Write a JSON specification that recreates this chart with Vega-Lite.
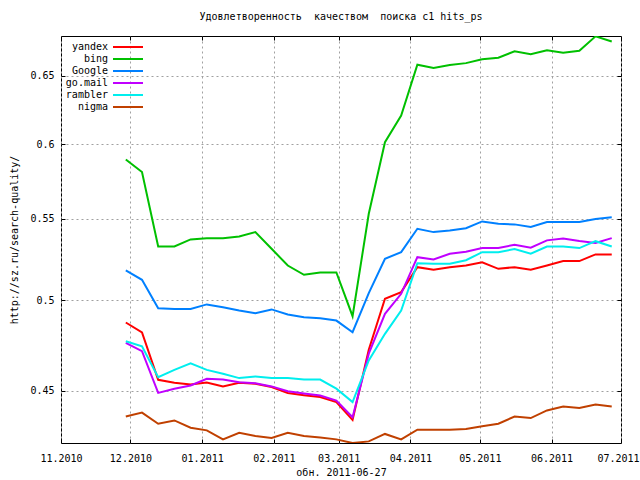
{
  "$schema": "https://vega.github.io/schema/vega-lite/v6.json",
  "autosize": "none",
  "width": 560,
  "height": 407,
  "padding": {"left": 61, "top": 36, "right": 19, "bottom": 37},
  "background": "white",
  "title": {
    "text": "Удовлетворенность\u00a0 качеством\u00a0 поиска c1 hits_ps",
    "font": "DejaVu Sans Mono",
    "fontSize": 10,
    "fontWeight": "normal",
    "color": "black",
    "anchor": "middle",
    "offset": 14
  },
  "config": {
    "view": {"stroke": "black", "strokeWidth": 1},
    "axis": {
      "labelFont": "DejaVu Sans Mono",
      "labelFontSize": 10,
      "labelColor": "black",
      "titleFont": "DejaVu Sans Mono",
      "titleFontSize": 10,
      "titleFontWeight": "normal",
      "titleColor": "black",
      "tickColor": "black",
      "domain": false,
      "gridColor": "#a0a0a0",
      "gridDash": [2, 3],
      "gridWidth": 1
    }
  },
  "data": {
    "values": [
      {"date": "2010-11-29", "engine": "yandex", "v": 0.4873}, {"date": "2010-11-29", "engine": "bing", "v": 0.5894}, {"date": "2010-11-29", "engine": "Google", "v": 0.5178}, {"date": "2010-11-29", "engine": "go.mail", "v": 0.4759}, {"date": "2010-11-29", "engine": "rambler", "v": 0.4768}, {"date": "2010-11-29", "engine": "nigma", "v": 0.4367},
      {"date": "2010-12-06", "engine": "yandex", "v": 0.4817}, {"date": "2010-12-06", "engine": "bing", "v": 0.5808}, {"date": "2010-12-06", "engine": "Google", "v": 0.5122}, {"date": "2010-12-06", "engine": "go.mail", "v": 0.4713}, {"date": "2010-12-06", "engine": "rambler", "v": 0.4740}, {"date": "2010-12-06", "engine": "nigma", "v": 0.4387},
      {"date": "2010-12-13", "engine": "yandex", "v": 0.4558}, {"date": "2010-12-13", "engine": "bing", "v": 0.5325}, {"date": "2010-12-13", "engine": "Google", "v": 0.4955}, {"date": "2010-12-13", "engine": "go.mail", "v": 0.4489}, {"date": "2010-12-13", "engine": "rambler", "v": 0.4572}, {"date": "2010-12-13", "engine": "nigma", "v": 0.4330},
      {"date": "2010-12-20", "engine": "yandex", "v": 0.4542}, {"date": "2010-12-20", "engine": "bing", "v": 0.5325}, {"date": "2010-12-20", "engine": "Google", "v": 0.4950}, {"date": "2010-12-20", "engine": "go.mail", "v": 0.4511}, {"date": "2010-12-20", "engine": "rambler", "v": 0.4611}, {"date": "2010-12-20", "engine": "nigma", "v": 0.4347},
      {"date": "2010-12-27", "engine": "yandex", "v": 0.4533}, {"date": "2010-12-27", "engine": "bing", "v": 0.5369}, {"date": "2010-12-27", "engine": "Google", "v": 0.4950}, {"date": "2010-12-27", "engine": "go.mail", "v": 0.4528}, {"date": "2010-12-27", "engine": "rambler", "v": 0.4647}, {"date": "2010-12-27", "engine": "nigma", "v": 0.4310},
      {"date": "2011-01-03", "engine": "yandex", "v": 0.4543}, {"date": "2011-01-03", "engine": "bing", "v": 0.5377}, {"date": "2011-01-03", "engine": "Google", "v": 0.4977}, {"date": "2011-01-03", "engine": "go.mail", "v": 0.4563}, {"date": "2011-01-03", "engine": "rambler", "v": 0.4611}, {"date": "2011-01-03", "engine": "nigma", "v": 0.4297},
      {"date": "2011-01-10", "engine": "yandex", "v": 0.4523}, {"date": "2011-01-10", "engine": "bing", "v": 0.5377}, {"date": "2011-01-10", "engine": "Google", "v": 0.4961}, {"date": "2011-01-10", "engine": "go.mail", "v": 0.4560}, {"date": "2011-01-10", "engine": "rambler", "v": 0.4590}, {"date": "2011-01-10", "engine": "nigma", "v": 0.4252},
      {"date": "2011-01-17", "engine": "yandex", "v": 0.4542}, {"date": "2011-01-17", "engine": "bing", "v": 0.5388}, {"date": "2011-01-17", "engine": "Google", "v": 0.4942}, {"date": "2011-01-17", "engine": "go.mail", "v": 0.4545}, {"date": "2011-01-17", "engine": "rambler", "v": 0.4567}, {"date": "2011-01-17", "engine": "nigma", "v": 0.4285},
      {"date": "2011-01-24", "engine": "yandex", "v": 0.4537}, {"date": "2011-01-24", "engine": "bing", "v": 0.5415}, {"date": "2011-01-24", "engine": "Google", "v": 0.4926}, {"date": "2011-01-24", "engine": "go.mail", "v": 0.4540}, {"date": "2011-01-24", "engine": "rambler", "v": 0.4576}, {"date": "2011-01-24", "engine": "nigma", "v": 0.4269},
      {"date": "2011-01-31", "engine": "yandex", "v": 0.4520}, {"date": "2011-01-31", "engine": "bing", "v": 0.5311}, {"date": "2011-01-31", "engine": "Google", "v": 0.4948}, {"date": "2011-01-31", "engine": "go.mail", "v": 0.4523}, {"date": "2011-01-31", "engine": "rambler", "v": 0.4567}, {"date": "2011-01-31", "engine": "nigma", "v": 0.4259},
      {"date": "2011-02-07", "engine": "yandex", "v": 0.4488}, {"date": "2011-02-07", "engine": "bing", "v": 0.5208}, {"date": "2011-02-07", "engine": "Google", "v": 0.4919}, {"date": "2011-02-07", "engine": "go.mail", "v": 0.4498}, {"date": "2011-02-07", "engine": "rambler", "v": 0.4567}, {"date": "2011-02-07", "engine": "nigma", "v": 0.4285},
      {"date": "2011-02-14", "engine": "yandex", "v": 0.4477}, {"date": "2011-02-14", "engine": "bing", "v": 0.5152}, {"date": "2011-02-14", "engine": "Google", "v": 0.4903}, {"date": "2011-02-14", "engine": "go.mail", "v": 0.4486}, {"date": "2011-02-14", "engine": "rambler", "v": 0.4559}, {"date": "2011-02-14", "engine": "nigma", "v": 0.4269},
      {"date": "2011-02-21", "engine": "yandex", "v": 0.4467}, {"date": "2011-02-21", "engine": "bing", "v": 0.5166}, {"date": "2011-02-21", "engine": "Google", "v": 0.4897}, {"date": "2011-02-21", "engine": "go.mail", "v": 0.4475}, {"date": "2011-02-21", "engine": "rambler", "v": 0.4559}, {"date": "2011-02-21", "engine": "nigma", "v": 0.4261},
      {"date": "2011-02-28", "engine": "yandex", "v": 0.4441}, {"date": "2011-02-28", "engine": "bing", "v": 0.5166}, {"date": "2011-02-28", "engine": "Google", "v": 0.4884}, {"date": "2011-02-28", "engine": "go.mail", "v": 0.4449}, {"date": "2011-02-28", "engine": "rambler", "v": 0.4511}, {"date": "2011-02-28", "engine": "nigma", "v": 0.4252},
      {"date": "2011-03-07", "engine": "yandex", "v": 0.4350}, {"date": "2011-03-07", "engine": "bing", "v": 0.4909}, {"date": "2011-03-07", "engine": "Google", "v": 0.4818}, {"date": "2011-03-07", "engine": "go.mail", "v": 0.4363}, {"date": "2011-03-07", "engine": "rambler", "v": 0.4441}, {"date": "2011-03-07", "engine": "nigma", "v": 0.4234},
      {"date": "2011-03-14", "engine": "yandex", "v": 0.4721}, {"date": "2011-03-14", "engine": "bing", "v": 0.5532}, {"date": "2011-03-14", "engine": "Google", "v": 0.5043}, {"date": "2011-03-14", "engine": "go.mail", "v": 0.4699}, {"date": "2011-03-14", "engine": "rambler", "v": 0.4662}, {"date": "2011-03-14", "engine": "nigma", "v": 0.4242},
      {"date": "2011-03-21", "engine": "yandex", "v": 0.5010}, {"date": "2011-03-21", "engine": "bing", "v": 0.6014}, {"date": "2011-03-21", "engine": "Google", "v": 0.5249}, {"date": "2011-03-21", "engine": "go.mail", "v": 0.4923}, {"date": "2011-03-21", "engine": "rambler", "v": 0.4809}, {"date": "2011-03-21", "engine": "nigma", "v": 0.4279},
      {"date": "2011-03-28", "engine": "yandex", "v": 0.5049}, {"date": "2011-03-28", "engine": "bing", "v": 0.6204}, {"date": "2011-03-28", "engine": "Google", "v": 0.5290}, {"date": "2011-03-28", "engine": "go.mail", "v": 0.5039}, {"date": "2011-03-28", "engine": "rambler", "v": 0.4942}, {"date": "2011-03-28", "engine": "nigma", "v": 0.4252},
      {"date": "2011-04-04", "engine": "yandex", "v": 0.5198}, {"date": "2011-04-04", "engine": "bing", "v": 0.6583}, {"date": "2011-04-04", "engine": "Google", "v": 0.5436}, {"date": "2011-04-04", "engine": "go.mail", "v": 0.5259}, {"date": "2011-04-04", "engine": "rambler", "v": 0.5222}, {"date": "2011-04-04", "engine": "nigma", "v": 0.4300},
      {"date": "2011-04-11", "engine": "yandex", "v": 0.5182}, {"date": "2011-04-11", "engine": "bing", "v": 0.6557}, {"date": "2011-04-11", "engine": "Google", "v": 0.5415}, {"date": "2011-04-11", "engine": "go.mail", "v": 0.5245}, {"date": "2011-04-11", "engine": "rambler", "v": 0.5219}, {"date": "2011-04-11", "engine": "nigma", "v": 0.4300},
      {"date": "2011-04-18", "engine": "yandex", "v": 0.5198}, {"date": "2011-04-18", "engine": "bing", "v": 0.6580}, {"date": "2011-04-18", "engine": "Google", "v": 0.5425}, {"date": "2011-04-18", "engine": "go.mail", "v": 0.5280}, {"date": "2011-04-18", "engine": "rambler", "v": 0.5219}, {"date": "2011-04-18", "engine": "nigma", "v": 0.4300},
      {"date": "2011-04-25", "engine": "yandex", "v": 0.5208}, {"date": "2011-04-25", "engine": "bing", "v": 0.6595}, {"date": "2011-04-25", "engine": "Google", "v": 0.5440}, {"date": "2011-04-25", "engine": "go.mail", "v": 0.5293}, {"date": "2011-04-25", "engine": "rambler", "v": 0.5240}, {"date": "2011-04-25", "engine": "nigma", "v": 0.4304},
      {"date": "2011-05-02", "engine": "yandex", "v": 0.5228}, {"date": "2011-05-02", "engine": "bing", "v": 0.6624}, {"date": "2011-05-02", "engine": "Google", "v": 0.5483}, {"date": "2011-05-02", "engine": "go.mail", "v": 0.5315}, {"date": "2011-05-02", "engine": "rambler", "v": 0.5290}, {"date": "2011-05-02", "engine": "nigma", "v": 0.4318},
      {"date": "2011-05-09", "engine": "yandex", "v": 0.5188}, {"date": "2011-05-09", "engine": "bing", "v": 0.6637}, {"date": "2011-05-09", "engine": "Google", "v": 0.5468}, {"date": "2011-05-09", "engine": "go.mail", "v": 0.5315}, {"date": "2011-05-09", "engine": "rambler", "v": 0.5290}, {"date": "2011-05-09", "engine": "nigma", "v": 0.4330},
      {"date": "2011-05-16", "engine": "yandex", "v": 0.5198}, {"date": "2011-05-16", "engine": "bing", "v": 0.6686}, {"date": "2011-05-16", "engine": "Google", "v": 0.5464}, {"date": "2011-05-16", "engine": "go.mail", "v": 0.5336}, {"date": "2011-05-16", "engine": "rambler", "v": 0.5309}, {"date": "2011-05-16", "engine": "nigma", "v": 0.4367},
      {"date": "2011-05-23", "engine": "yandex", "v": 0.5182}, {"date": "2011-05-23", "engine": "bing", "v": 0.6663}, {"date": "2011-05-23", "engine": "Google", "v": 0.5447}, {"date": "2011-05-23", "engine": "go.mail", "v": 0.5317}, {"date": "2011-05-23", "engine": "rambler", "v": 0.5280}, {"date": "2011-05-23", "engine": "nigma", "v": 0.4359},
      {"date": "2011-05-30", "engine": "yandex", "v": 0.5208}, {"date": "2011-05-30", "engine": "bing", "v": 0.6694}, {"date": "2011-05-30", "engine": "Google", "v": 0.5479}, {"date": "2011-05-30", "engine": "go.mail", "v": 0.5363}, {"date": "2011-05-30", "engine": "rambler", "v": 0.5325}, {"date": "2011-05-30", "engine": "nigma", "v": 0.4398},
      {"date": "2011-06-06", "engine": "yandex", "v": 0.5235}, {"date": "2011-06-06", "engine": "bing", "v": 0.6676}, {"date": "2011-06-06", "engine": "Google", "v": 0.5479}, {"date": "2011-06-06", "engine": "go.mail", "v": 0.5375}, {"date": "2011-06-06", "engine": "rambler", "v": 0.5325}, {"date": "2011-06-06", "engine": "nigma", "v": 0.4418},
      {"date": "2011-06-13", "engine": "yandex", "v": 0.5235}, {"date": "2011-06-13", "engine": "bing", "v": 0.6690}, {"date": "2011-06-13", "engine": "Google", "v": 0.5479}, {"date": "2011-06-13", "engine": "go.mail", "v": 0.5359}, {"date": "2011-06-13", "engine": "rambler", "v": 0.5315}, {"date": "2011-06-13", "engine": "nigma", "v": 0.4410},
      {"date": "2011-06-20", "engine": "yandex", "v": 0.5276}, {"date": "2011-06-20", "engine": "bing", "v": 0.6804}, {"date": "2011-06-20", "engine": "Google", "v": 0.5498}, {"date": "2011-06-20", "engine": "go.mail", "v": 0.5347}, {"date": "2011-06-20", "engine": "rambler", "v": 0.5358}, {"date": "2011-06-20", "engine": "nigma", "v": 0.4429},
      {"date": "2011-06-27", "engine": "yandex", "v": 0.5276}, {"date": "2011-06-27", "engine": "bing", "v": 0.6764}, {"date": "2011-06-27", "engine": "Google", "v": 0.5510}, {"date": "2011-06-27", "engine": "go.mail", "v": 0.5377}, {"date": "2011-06-27", "engine": "rambler", "v": 0.5325}, {"date": "2011-06-27", "engine": "nigma", "v": 0.4418}
    ]
  },
  "layer": [
    {
      "mark": {"type": "line", "strokeWidth": 2, "clip": true},
      "encoding": {
        "x": {
          "field": "date",
          "type": "temporal",
          "scale": {"type": "utc", "domain": [{"year": 2010, "month": 11, "date": 1, "utc": true}, {"year": 2011, "month": 7, "date": 1, "utc": true}], "nice": false},
          "axis": {
            "orient": "bottom",
            "values": [
              {"year": 2010, "month": 11, "date": 1, "utc": true},
              {"year": 2010, "month": 12, "date": 1, "utc": true},
              {"year": 2011, "month": 1, "date": 1, "utc": true},
              {"year": 2011, "month": 2, "date": 1, "utc": true},
              {"year": 2011, "month": 3, "date": 1, "utc": true},
              {"year": 2011, "month": 4, "date": 1, "utc": true},
              {"year": 2011, "month": 5, "date": 1, "utc": true},
              {"year": 2011, "month": 6, "date": 1, "utc": true},
              {"year": 2011, "month": 7, "date": 1, "utc": true}
            ],
            "labelExpr": "utcFormat(datum.value, '%m.%Y')",
            "labelFlush": false,
            "labelOverlap": false,
            "labelOffset": {"condition": {"test": "datum.value > 1309000000000", "value": -3}, "value": 0},
            "grid": true,
            "tickSize": -4,
            "labelPadding": 14,
            "title": "обн. 2011-06-27",
            "titlePadding": 4
          }
        },
        "y": {
          "field": "v",
          "type": "quantitative",
          "scale": {"type": "log", "domain": [0.4234, 0.6807], "nice": false, "zero": false},
          "axis": {
            "orient": "left",
            "values": [0.45, 0.5, 0.55, 0.6, 0.65],
            "labelExpr": "format(datum.value, '~g')",
            "grid": true,
            "tickSize": -4,
            "labelPadding": 11,
            "title": "http://sz.ru/search-quality/",
            "titlePadding": 10
          }
        },
        "color": {
          "field": "engine",
          "type": "nominal",
          "sort": ["yandex", "bing", "Google", "go.mail", "rambler", "nigma"],
          "scale": {
            "domain": ["yandex", "bing", "Google", "go.mail", "rambler", "nigma"],
            "range": ["#ff0000", "#00c000", "#0080ff", "#c000ff", "#00eeee", "#c04000"]
          },
          "legend": {
            "orient": "none",
            "legendX": 61,
            "legendY": 5,
            "title": null,
            "symbolType": "M-3,0H3",
            "symbolSize": 100,
            "symbolStrokeWidth": 2,
            "labelAlign": "right",
            "labelOffset": -26,
            "labelFont": "DejaVu Sans Mono",
            "labelFontSize": 10,
            "labelColor": "black",
            "rowPadding": 1,
            "padding": 0
          }
        }
      }
    },
    {
      "mark": {"type": "line", "strokeOpacity": 0},
      "encoding": {
        "x": {
          "field": "date",
          "type": "temporal",
          "axis": {
            "orient": "top",
            "values": [
              {"year": 2010, "month": 11, "date": 1, "utc": true},
              {"year": 2010, "month": 12, "date": 1, "utc": true},
              {"year": 2011, "month": 1, "date": 1, "utc": true},
              {"year": 2011, "month": 2, "date": 1, "utc": true},
              {"year": 2011, "month": 3, "date": 1, "utc": true},
              {"year": 2011, "month": 4, "date": 1, "utc": true},
              {"year": 2011, "month": 5, "date": 1, "utc": true},
              {"year": 2011, "month": 6, "date": 1, "utc": true},
              {"year": 2011, "month": 7, "date": 1, "utc": true}
            ],
            "labels": false,
            "grid": false,
            "tickSize": -4,
            "title": null
          }
        },
        "y": {
          "field": "v",
          "type": "quantitative",
          "axis": {
            "orient": "right",
            "values": [0.45, 0.5, 0.55, 0.6, 0.65],
            "labels": false,
            "grid": false,
            "tickSize": -4,
            "title": null
          }
        },
        "detail": {"field": "engine"}
      }
    }
  ],
  "resolve": {"axis": {"x": "independent", "y": "independent"}}
}
